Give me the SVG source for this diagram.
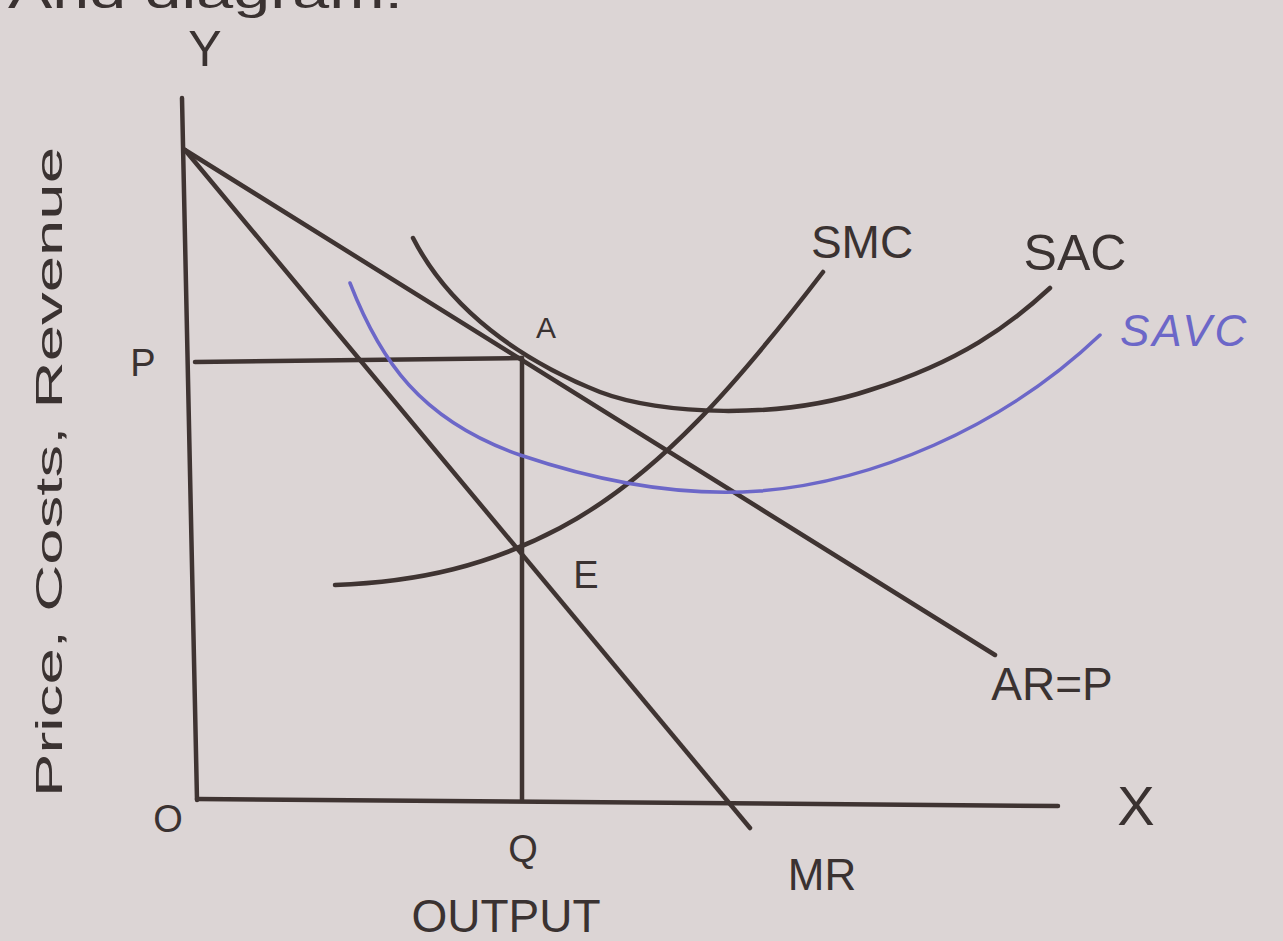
<svg xmlns="http://www.w3.org/2000/svg" width="1283" height="941" viewBox="0 0 1283 941">
<style>
.ln{fill:none;stroke:#3f3432;stroke-width:4.5;stroke-linecap:round}
.t{font-family:"Liberation Sans",Arial,sans-serif;fill:#3a3231}
.blue{fill:none;stroke:#6c67c8;stroke-width:3.5;stroke-linecap:round}
</style>
<rect width="1283" height="941" fill="#dcd5d5"/>
<text class="t" x="8" y="8" font-size="46" textLength="395" lengthAdjust="spacingAndGlyphs">And diagram.</text>
<g id="axes">
<path class="ln" d="M182,98 L197,800" stroke-width="5"/>
<path class="ln" d="M197,799 L1058,806" stroke-width="6"/>
</g>
<g id="connectors">
<path class="ln" d="M185,150 L995,655"/>
<path class="ln" d="M185,150 L750,828"/>
<path class="ln" d="M195,362 L522,358" stroke-width="3.5"/>
<path class="ln" d="M522,358 L522,800" stroke-width="3.5"/>
<path class="ln" d="M413,238 C450,310 520,360 600,392 C660,415 780,420 870,390 C960,362 1010,325 1050,288"/>
<path class="ln" d="M335,585 C420,582 490,565 560,528 C660,475 740,380 823,272"/>
<path class="blue" d="M350,283 C380,360 420,420 520,455 C600,482 680,497 760,491 C870,482 1000,430 1100,335"/>
</g>
<g id="labels">
<text class="t" x="205" y="66" font-size="50" text-anchor="middle">Y</text>
<text class="t" x="1136" y="825" font-size="56" text-anchor="middle">X</text>
<text class="t" x="168" y="832" font-size="38" text-anchor="middle">O</text>
<text class="t" x="143" y="376" font-size="38" text-anchor="middle">P</text>
<text class="t" x="546" y="338" font-size="30" text-anchor="middle">A</text>
<text class="t" x="586" y="588" font-size="38" text-anchor="middle">E</text>
<text class="t" x="523" y="862" font-size="38" text-anchor="middle">Q</text>
<text class="t" x="822" y="890" font-size="44" text-anchor="middle">MR</text>
<text class="t" x="506" y="932" font-size="46" text-anchor="middle">OUTPUT</text>
<text class="t" x="862" y="258" font-size="46" text-anchor="middle">SMC</text>
<text class="t" x="1075" y="270" font-size="50" text-anchor="middle">SAC</text>
<text class="t" x="1052" y="700" font-size="46" text-anchor="middle">AR=P</text>
<text x="1120" y="346" font-size="44" font-family="Liberation Sans, sans-serif" font-style="italic" letter-spacing="3" fill="#6c67c8">SAVC</text>
<text class="t" transform="translate(62,472) rotate(-90)" font-size="36" text-anchor="middle" textLength="650" lengthAdjust="spacingAndGlyphs" fill="#4a4140">Price, Costs, Revenue</text>
</g>
</svg>
